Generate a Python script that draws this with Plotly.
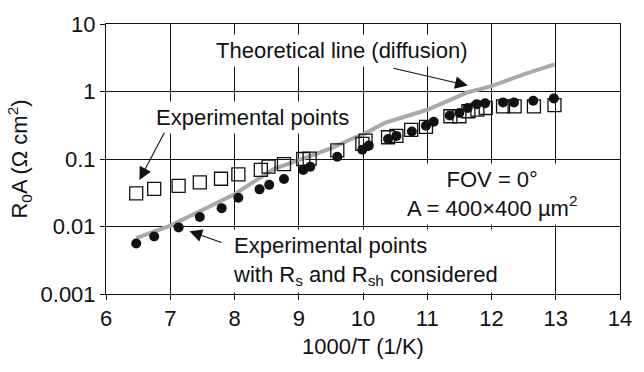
import plotly.graph_objects as go

# Experimental points (open squares)
exp_x = [6.47, 6.75, 7.13, 7.46, 7.79, 8.06, 8.41, 8.53, 8.77, 9.07, 9.17, 9.60,
         9.99, 10.04, 10.39, 10.52, 10.75, 10.98, 11.36, 11.50, 11.64, 11.78,
         11.91, 12.18, 12.36, 12.66, 12.98]
exp_y = [0.031, 0.036, 0.040, 0.045, 0.051, 0.059, 0.069, 0.077, 0.084, 0.100, 0.101, 0.134,
         0.167, 0.187, 0.210, 0.220, 0.270, 0.300, 0.430, 0.430, 0.510, 0.540,
         0.570, 0.600, 0.600, 0.600, 0.630]

# Experimental points with Rs and Rsh considered (filled circles)
corr_x = [6.47, 6.75, 7.13, 7.46, 7.80, 8.06, 8.39, 8.54, 8.77, 9.07, 9.18, 9.60,
          9.99, 10.09, 10.39, 10.52, 10.76, 10.98, 11.10, 11.35, 11.50, 11.63,
          11.77, 11.90, 12.18, 12.35, 12.65, 12.97]
corr_y = [0.0056, 0.0071, 0.0097, 0.0138, 0.0187, 0.0266, 0.0355, 0.0414, 0.0506, 0.069, 0.077, 0.108,
          0.137, 0.158, 0.198, 0.220, 0.255, 0.310, 0.356, 0.440, 0.480, 0.570,
          0.650, 0.670, 0.690, 0.690, 0.730, 0.790]

# Theoretical diffusion-limited R0A
theo_x = [6.47, 7.0, 7.5, 8.0, 8.5, 8.61, 9.0, 9.43, 9.5, 9.88, 10.0, 10.34, 10.5,
          11.0, 11.5, 11.62, 12.0, 12.43, 12.5, 12.98]
theo_y = [0.0067, 0.0103, 0.0176, 0.030, 0.061, 0.071, 0.096, 0.134, 0.144, 0.21, 0.23, 0.344, 0.38,
          0.536, 0.86, 0.966, 1.2, 1.72, 1.8, 2.53]

y_tickvals = [0.001, 0.01, 0.1, 1, 10]
y_ticktext = ["0.001", "0.01", "0.1", "1", "10"]
x_tickvals = [6, 7, 8, 9, 10, 11, 12, 13, 14]

FONT = "Liberation Sans, Arial, Helvetica, sans-serif"
INK = "#111111"

fig = go.Figure()
fig.add_trace(go.Scatter(
    x=theo_x, y=theo_y, mode="lines",
    line=dict(color="#a9a9a9", width=4), showlegend=False))
fig.add_trace(go.Scatter(
    x=exp_x, y=exp_y, mode="markers",
    marker=dict(symbol="square-open", size=13, color=INK, line=dict(width=1.3, color=INK)),
    showlegend=False))
fig.add_trace(go.Scatter(
    x=corr_x, y=corr_y, mode="markers",
    marker=dict(symbol="circle", size=10, color=INK),
    showlegend=False))

axis_common = dict(
    showline=True, mirror=True, linecolor=INK, linewidth=1,
    showgrid=True, gridcolor=INK, gridwidth=1,
    ticks="outside", ticklen=5, tickcolor=INK, tickwidth=1,
    tickfont=dict(family=FONT, size=22, color=INK),
    zeroline=False,
)

fig.update_xaxes(range=[6, 14], tickvals=x_tickvals,
                 title=dict(text="1000/T (1/K)", font=dict(family=FONT, size=22, color=INK), standoff=8),
                 **axis_common)
fig.update_yaxes(type="log", range=[-3, 1], tickvals=y_tickvals, ticktext=y_ticktext,
                 title=dict(text="R<sub>0</sub>A (Ω cm<sup>2</sup>)",
                            font=dict(family=FONT, size=22, color=INK), standoff=6),
                 **axis_common)

tfont = dict(family=FONT, size=22, color=INK)
annos = [
    # text labels (y given in log10 units on the log axis)
    dict(x=9.68, y=0.61, text="Theoretical line (diffusion)", showarrow=False,
         bgcolor="white", borderpad=3, font=tfont),
    dict(x=8.28, y=-0.386, text="Experimental points", showarrow=False,
         bgcolor="white", borderpad=3, font=tfont),
    dict(x=7.91, y=-2.51, xanchor="left",
         text="Experimental points<br>with R<sub>s</sub> and R<sub>sh</sub> considered",
         align="left", showarrow=False, bgcolor="white", borderpad=3, font=tfont),
    dict(x=12.01, y=-1.52, text="FOV = 0°<br>A = 400×400 µm<sup>2</sup>",
         align="center", showarrow=False, bgcolor="white", borderpad=3, font=tfont),
    # arrows
    dict(x=11.63, y=0.09, ax=10.45, ay=0.35, axref="x", ayref="y", text="",
         showarrow=True, arrowhead=2, arrowsize=2.3, arrowwidth=1.1, arrowcolor=INK),
    dict(x=6.52, y=-1.31, ax=6.92, ay=-0.588, axref="x", ayref="y", text="",
         showarrow=True, arrowhead=2, arrowsize=2.3, arrowwidth=1.1, arrowcolor=INK),
    dict(x=7.30, y=-2.07, ax=7.82, ay=-2.245, axref="x", ayref="y", text="",
         showarrow=True, arrowhead=2, arrowsize=2.3, arrowwidth=1.1, arrowcolor=INK),
]
fig.update_layout(
    width=644, height=372,
    margin=dict(l=106, r=15, t=17, b=78),
    paper_bgcolor="white", plot_bgcolor="white",
    annotations=annos,
    font=dict(family=FONT, color=INK),
)

fig.write_html("out.html")
